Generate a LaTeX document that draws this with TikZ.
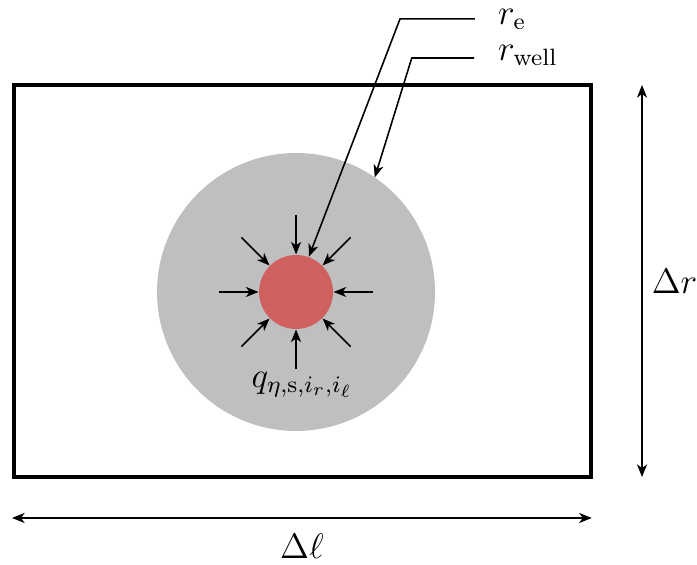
\documentclass[tikz,border=0pt]{standalone}
\usetikzlibrary{arrows.meta,calc}
\definecolor{putrood}{RGB}{208,96,96}
\tikzset{label/.style={font=\large, scale=1.12, inner sep=2pt}}
\begin{document}
\begin{tikzpicture}[>={Stealth[length=4.8pt,width=3.8pt,inset=1.4pt]}, semithick, scale=1.0]
      \useasboundingbox (0,0) rectangle (9.293,7.533);

        % Cel
        \coordinate (A) at (0.187,1.173);
        \coordinate (B) at (7.88,6.40);
        \draw[very thick] (A) rectangle (B);

        % Put met invloedsgebied
        \coordinate (M) at (3.947,3.64);
        \fill[gray!50] (M) circle (1.853);
        \fill[putrood] (M) circle (0.493);

        % Instroming
        \foreach \hoek in {0,45,...,315}
          \draw[->] ($(M)+(\hoek:1.03)$) -- ($(M)+(\hoek:0.5)$);
        \node[label] (q) at (4.03,2.40) {$q_{\eta,\mathrm{s},i_r,i_\ell}$};

        % Straal van de put
        \coordinate (Ke) at (6.33,7.28);
        \coordinate (Ne) at (5.333,7.28);
        \node[label, right] (re) at (6.55,7.27) {$r_{\mathrm e}$};
        \draw[->] (Ke) -- (Ne) -- ($(M)+(70:0.5)$);

        % Straal van het invloedsgebied
        \coordinate (Kw) at (6.32,6.76);
        \coordinate (Nw) at (5.49,6.76);
        \node[label, right] (rw) at (6.55,6.79) {$r_{\mathrm{well}}$};
        \draw[->] (Kw) -- (Nw) -- ($(M)+(55.5:1.853)$);

        % Afmetingen van de cel
        \draw[<->] (8.56,6.40) -- (8.56,1.173)
          node[label, midway, right=1pt] (dr) {$\Delta r$};
        \draw[<->] (0.16,0.627) -- (7.89,0.627)
          node[label, midway, below=3pt] (dl) {$\Delta\ell$};

      \end{tikzpicture}
\end{document}
